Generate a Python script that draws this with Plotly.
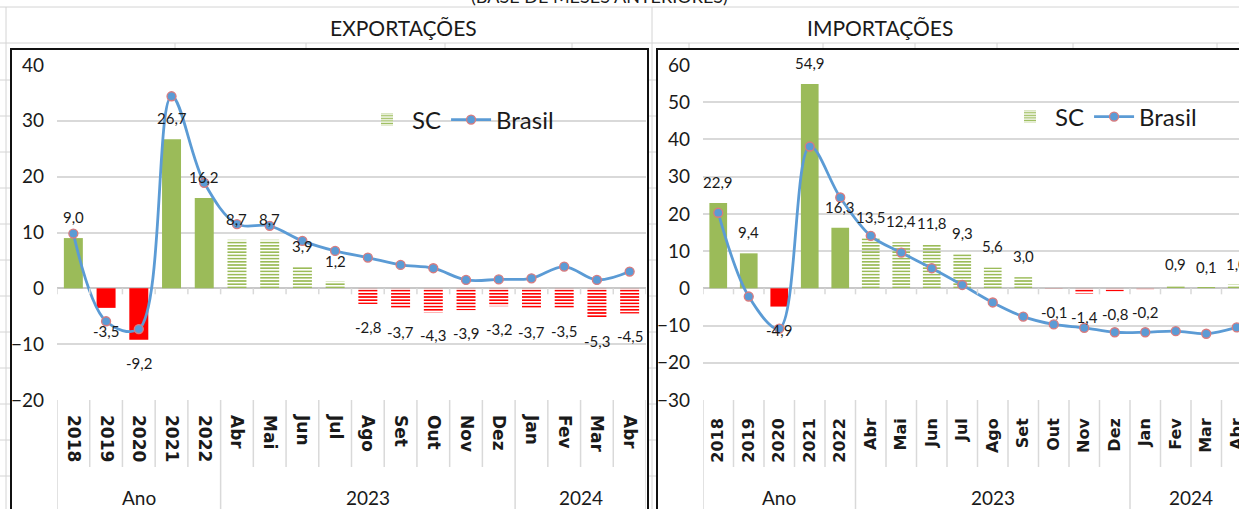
import plotly.graph_objects as go

W, H = 1239, 509

categories = ["2018", "2019", "2020", "2021", "2022", "Abr", "Mai", "Jun", "Jul",
              "Ago", "Set", "Out", "Nov", "Dez", "Jan", "Fev", "Mar", "Abr"]
group_labels = ["Ano", "2023", "2024"]
group_sizes = [5, 9, 4]

exp_sc = [9.0, -3.5, -9.2, 26.7, 16.2, 8.7, 8.7, 3.9, 1.2, -2.8, -3.7, -4.3, -3.9, -3.2, -3.7, -3.5, -5.3, -4.5]
exp_br = [9.8, -5.9, -7.3, 34.4, 18.9, 11.5, 11.2, 8.5, 6.7, 5.5, 4.2, 3.6, 1.5, 1.6, 1.8, 3.9, 1.5, 3.0]
imp_sc = [22.9, 9.4, -4.9, 54.9, 16.3, 13.5, 12.4, 11.8, 9.3, 5.6, 3.0, -0.1, -1.4, -0.8, -0.2, 0.9, 0.1, 1.0]
imp_br = [20.3, -2.2, -10.8, 38.1, 24.4, 14.1, 9.6, 5.4, 0.9, -3.8, -7.6, -9.7, -10.6, -11.8, -11.8, -11.5, -12.2, -10.5]

titles = ["EXPORTAÇÕES", "IMPORTAÇÕES"]
top_title = "(BASE DE MESES ANTERIORES)"

GREEN = "#9BBB59"
RED = "#FF0000"
BLUE = "#5B9BD5"
GRID = "#d9d9d9"
SHEET = "#d4d4d4"
TXT = "#1a1a1a"
FONT = "Lato"

def px_x(p):
    return p / W

def px_y(p):
    return 1 - p / H

n = len(categories)
idx = list(range(n))
n_year = group_sizes[0]

fig = go.Figure()

panels = [
    dict(sc=exp_sc, br=exp_br, xa="x", ya="y", legend="legend"),
    dict(sc=imp_sc, br=imp_br, xa="x2", ya="y2", legend="legend2"),
]

annotations = []
shapes = []

for p in panels:
    sc, br = p["sc"], p["br"]
    cols = [GREEN if v >= 0 else RED for v in sc]
    # annual bars (solid)
    fig.add_trace(go.Bar(
        x=idx[:n_year], y=sc[:n_year], xaxis=p["xa"], yaxis=p["ya"],
        marker=dict(color=cols[:n_year], line=dict(width=0)),
        width=0.58, showlegend=False, name="SC", legend=p["legend"],
        hoverinfo="skip"))
    # monthly bars (horizontal-line pattern)
    fig.add_trace(go.Bar(
        x=idx[n_year:], y=sc[n_year:], xaxis=p["xa"], yaxis=p["ya"],
        marker=dict(color=cols[n_year:], line=dict(width=0),
                    pattern=dict(shape="-", bgcolor="white", size=3.2,
                                 solidity=0.5, fillmode="replace")),
        width=0.58, name="SC", legend=p["legend"], showlegend=True,
        hoverinfo="skip"))
    fig.add_trace(go.Scatter(
        x=idx, y=br, xaxis=p["xa"], yaxis=p["ya"], mode="lines+markers",
        name="Brasil", legend=p["legend"],
        line=dict(color=BLUE, width=2.8, shape="spline", smoothing=1.0),
        marker=dict(symbol="circle", size=9, color=BLUE,
                    line=dict(color="#D97B7E", width=1.3)),
        hoverinfo="skip"))
    # data labels
    for i, v in enumerate(sc):
        annotations.append(dict(
            x=i, y=v, xref=p["xa"], yref=p["ya"], showarrow=False,
            text=f"{v:.1f}".replace(".", ","), yshift=21 if v >= 0 else -23,
            font=dict(family=FONT, size=15, color=TXT)))
    # small ticks on zero line at category boundaries
    for i in range(n + 1):
        shapes.append(dict(type="line", xref=p["xa"], yref=p["ya"],
                           x0=i - 0.5, x1=i - 0.5, ysizemode="pixel", yanchor=0,
                           y0=0, y1=-6, line=dict(color=GRID, width=1.5)))
    # category boxes under the axis
    bounds = [-0.5]
    acc = -0.5
    for g in group_sizes:
        acc += g
        bounds.append(acc)
    for i in range(n + 1):
        xb = i - 0.5
        long = any(abs(xb - b) < 1e-9 for b in bounds)
        shapes.append(dict(type="line", xref=p["xa"], yref="paper",
                           x0=xb, x1=xb, y0=px_y(400), y1=px_y(512 if long else 467),
                           line=dict(color=GRID, width=1.5), layer="below"))
    # group labels
    start = 0
    for lab, g in zip(group_labels, group_sizes):
        annotations.append(dict(
            x=start + (g - 1) / 2, y=px_y(497), xref=p["xa"], yref="paper",
            showarrow=False, text=lab, yanchor="middle",
            font=dict(family=FONT, size=19, color=TXT)))
        start += g

# headers and spreadsheet look
annotations.append(dict(x=px_x(328), y=px_y(27), xref="paper", yref="paper",
                        text=titles[0], showarrow=False, yanchor="middle",
                        font=dict(family=FONT, size=21, color=TXT)))
annotations.append(dict(x=px_x(955), y=px_y(27), xref="paper", yref="paper",
                        text=titles[1], showarrow=False, yanchor="middle",
                        font=dict(family=FONT, size=21, color=TXT)))
annotations.append(dict(x=px_x(599), y=px_y(-4), xref="paper", yref="paper",
                        text=top_title, showarrow=False, yanchor="middle",
                        font=dict(family=FONT, size=18, color=TXT)))

def hline(x0, x1, y, color=SHEET, w=1):
    shapes.append(dict(type="line", xref="paper", yref="paper", x0=px_x(x0), x1=px_x(x1),
                       y0=px_y(y), y1=px_y(y), line=dict(color=color, width=w), layer="below"))

def vline(x, y0, y1, color=SHEET, w=1):
    shapes.append(dict(type="line", xref="paper", yref="paper", x0=px_x(x), x1=px_x(x),
                       y0=px_y(y0), y1=px_y(y1), line=dict(color=color, width=w), layer="below"))

hline(0, W, 7)
hline(0, W, 43)
vline(6, 7, H)
vline(652, 7, H)
for cx in [175, 306, 445, 572, 689, 823, 915, 997, 1073, 1217]:
    vline(cx, 43, 49)
for ry in [80, 116, 152, 188, 224, 260, 296, 332, 368, 404, 440, 476]:
    hline(0, 11, ry)
    hline(648, 656, ry)

# chart frames
shapes.append(dict(type="rect", xref="paper", yref="paper", x0=px_x(11), x1=px_x(648),
                   y0=px_y(49), y1=px_y(520), line=dict(color="#111111", width=2)))
shapes.append(dict(type="rect", xref="paper", yref="paper", x0=px_x(657), x1=px_x(1260),
                   y0=px_y(49), y1=px_y(520), line=dict(color="#111111", width=2)))

ydom = [px_y(400), px_y(65)]
right_end = -0.5 + (W - 703) / 30.5

xcommon = dict(tickmode="array", tickvals=idx, ticktext=categories, showgrid=False,
               zeroline=False, showline=False, ticks="", ticklabelstandoff=14,
               ticklabeloverflow="allow", automargin=False, fixedrange=True)
ycommon = dict(dtick=10, showgrid=True, gridcolor=GRID, gridwidth=1.5, zeroline=True,
               zerolinecolor="#c8c8c8", zerolinewidth=1.5, showline=False, ticks="",
               ticklabelstandoff=12, tickfont=dict(family=FONT, size=19, color=TXT),
               automargin=False, fixedrange=True)

legcommon = dict(orientation="h", yanchor="middle", xanchor="left",
                 font=dict(family=FONT, size=24, color=TXT),
                 bgcolor="rgba(0,0,0,0)", itemwidth=40, traceorder="normal")

fig.update_layout(
    width=W, height=H, autosize=False,
    margin=dict(l=0, r=0, t=0, b=0, pad=0, autoexpand=False),
    paper_bgcolor="white", plot_bgcolor="white",
    barmode="overlay",
    xaxis=dict(domain=[px_x(57), px_x(646)], range=[-0.5, n - 0.5], tickangle=90,
               anchor="y", tickfont=dict(family="DejaVu Sans", size=17, color=TXT, weight="bold"),
               **xcommon),
    yaxis=dict(domain=ydom, range=[-20, 40], anchor="x", **ycommon),
    xaxis2=dict(domain=[px_x(703), 1], range=[-0.5, right_end], tickangle=-90,
                anchor="y2", tickfont=dict(family="DejaVu Sans", size=16, color=TXT, weight="bold"),
                **xcommon),
    yaxis2=dict(domain=ydom, range=[-30, 60], anchor="x2", **ycommon),
    legend=dict(x=px_x(362), y=px_y(120), **legcommon),
    legend2=dict(x=px_x(1005), y=px_y(117), **legcommon),
    annotations=annotations,
    shapes=shapes,
    font=dict(family=FONT, color=TXT),
)

fig.write_html(
    "out.html",
    config={"displayModeBar": False, "staticPlot": False},
    post_script="document.body.style.margin='0';document.body.style.overflow='hidden';",
)
